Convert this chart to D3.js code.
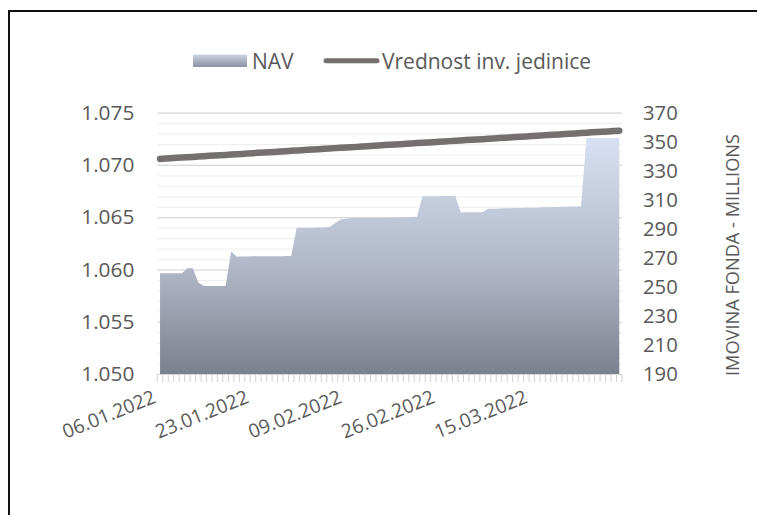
<!DOCTYPE html>
<html><head><meta charset="utf-8">
<script src="https://cdn.jsdelivr.net/npm/d3@7"></script>
<style>
body{margin:0;background:#fff}
text{font-family:"Open Sans",sans-serif;fill:#595959}
</style>
</head><body>
<svg id="c" width="757" height="515"></svg>
<script>
// ---- data ----
const categories = d3.timeDay.range(new Date(2022,0,6), new Date(2022,3,1)).map(d3.timeFormat("%d.%m.%Y"));
const tickLabels = ["06.01.2022","23.01.2022","09.02.2022","26.02.2022","15.03.2022"];
const leftTicks = [1.050,1.055,1.060,1.065,1.070,1.075];
const rightTicks = [190,210,230,250,270,290,310,330,350,370];
const navValues = [
 259.4,259.4,259.4,259.4,259.4,262.8,262.8,253.0,250.6,250.6,
 250.6,250.6,250.6,274.3,271.0,271.0,271.0,271.1,271.1,271.1,
 271.2,271.2,271.2,271.3,271.3,290.8,290.8,290.8,290.8,290.9,
 291.0,291.2,293.9,296.5,297.0,297.4,297.4,297.5,297.5,297.5,
 297.5,297.6,297.6,297.7,297.8,298.0,298.1,298.3,312.5,312.5,
 312.5,312.5,312.6,312.6,312.6,301.5,301.5,301.5,301.5,301.5,
 303.8,303.9,304.0,304.1,304.2,304.3,304.4,304.5,304.6,304.7,
 304.8,304.9,305.0,305.1,305.2,305.3,305.4,305.6,352.6,352.6,
 352.6,352.6,352.6,352.6,352.6
];
const unitValues = [
 1.07058,1.07061,1.07064,1.07068,1.07071,1.07074,1.07077,1.07080,1.07084,1.07087,
 1.07090,1.07093,1.07096,1.07100,1.07103,1.07106,1.07109,1.07113,1.07116,1.07119,
 1.07122,1.07125,1.07129,1.07132,1.07135,1.07138,1.07141,1.07145,1.07148,1.07151,
 1.07154,1.07157,1.07161,1.07164,1.07167,1.07170,1.07173,1.07177,1.07180,1.07183,
 1.07186,1.07190,1.07193,1.07196,1.07199,1.07202,1.07206,1.07209,1.07212,1.07215,
 1.07218,1.07222,1.07225,1.07228,1.07231,1.07234,1.07238,1.07241,1.07244,1.07247,
 1.07251,1.07254,1.07257,1.07260,1.07263,1.07267,1.07270,1.07273,1.07276,1.07279,
 1.07283,1.07286,1.07289,1.07292,1.07296,1.07299,1.07302,1.07305,1.07308,1.07312,
 1.07315,1.07318,1.07321,1.07324,1.07328
];
const seriesNames = ["NAV","Vrednost inv. jedinice"];
const rightTitle = "IMOVINA FONDA - MILLIONS";

// ---- chart ----
const svg = d3.select("#c");
const L = 157.3, R = 622, T = 112.7, B = 374;
const x = d3.scaleBand().domain(categories).range([L, R]).paddingInner(0).paddingOuter(0);
const cx = c => x(c) + x.bandwidth()/2;
const yL = d3.scaleLinear().domain([1.050, 1.075]).range([B, T]);
const yR = d3.scaleLinear().domain([190, 370]).range([B, T]);

svg.append("rect").attr("width",757).attr("height",515).attr("fill","#fff");

const defs = svg.append("defs");
const g1 = defs.append("linearGradient").attr("id","areaGrad")
  .attr("gradientUnits","userSpaceOnUse").attr("x1",0).attr("x2",0)
  .attr("y1", yR(d3.max(navValues))).attr("y2", B);
g1.append("stop").attr("offset","0").attr("stop-color","#d7e1f3");
g1.append("stop").attr("offset","0.55").attr("stop-color","#b0b8c8");
g1.append("stop").attr("offset","1").attr("stop-color","#7b818d");
const g2 = defs.append("linearGradient").attr("id","legGrad").attr("x1",0).attr("x2",0).attr("y1",0).attr("y2",1);
g2.append("stop").attr("offset","0").attr("stop-color","#cdd5e5");
g2.append("stop").attr("offset","1").attr("stop-color","#8a92a2");

// minor gridlines
const minor = svg.append("g").attr("transform",`translate(${L},0)`)
  .call(d3.axisLeft(yL).ticks(25).tickSize(-(R-L)).tickFormat(""));
minor.select(".domain").remove();
minor.selectAll("line").attr("stroke","#efefef").attr("stroke-width",1.2);
// major gridlines
const major = svg.append("g").attr("transform",`translate(${L},0)`)
  .call(d3.axisLeft(yL).tickValues(leftTicks).tickSize(-(R-L)).tickFormat(""));
major.select(".domain").remove();
major.selectAll("line").attr("stroke","#d9d9d9").attr("stroke-width",1.2);

// area
svg.append("path").datum(navValues.map((v,i)=>({c:categories[i], v})))
  .attr("fill","url(#areaGrad)")
  .attr("d", d3.area().x(d=>cx(d.c)).y0(yR(190)).y1(d=>yR(d.v)));

// line
svg.append("path").datum(unitValues.map((v,i)=>({c:categories[i], v})))
  .attr("fill","none").attr("stroke","#757070").attr("stroke-width",6.5)
  .attr("stroke-linecap","round").attr("stroke-linejoin","round")
  .attr("d", d3.line().x(d=>cx(d.c)).y(d=>yL(d.v)));

// x tick marks at category boundaries
const bounds = categories.map(c=>x(c)).concat([x.range()[1]]);
svg.append("g").selectAll("line").data(bounds).join("line")
  .attr("x1",d=>d).attr("x2",d=>d).attr("y1",B).attr("y2",B+8)
  .attr("stroke","#d0d0d0").attr("stroke-width",1);

// left axis labels
const la = svg.append("g").attr("transform",`translate(${L},0)`)
  .call(d3.axisLeft(yL).tickValues(leftTicks).tickSize(0).tickPadding(23).tickFormat(d3.format(".3f")));
la.select(".domain").remove();
la.selectAll("text").attr("font-size",20.8).style("font-family",'"Open Sans",sans-serif').attr("fill","#595959");

// right axis labels
const ra = svg.append("g").attr("transform",`translate(${R},0)`)
  .call(d3.axisRight(yR).tickValues(rightTicks).tickSize(0).tickPadding(21));
ra.select(".domain").remove();
ra.selectAll("text").attr("font-size",20.3).style("font-family",'"Open Sans",sans-serif').attr("fill","#595959");

// x labels
svg.append("g").selectAll("text").data(tickLabels).join("text")
  .attr("transform", d=>`translate(${cx(d)-3},402) rotate(-22)`)
  .attr("text-anchor","end").attr("font-size",19.3).text(d=>d);

// right title
svg.append("text").attr("transform","translate(732,255) rotate(-90)")
  .attr("text-anchor","middle").attr("dominant-baseline","central")
  .attr("font-size",18.2).text(rightTitle);

// legend
svg.append("rect").attr("x",193).attr("y",54.5).attr("width",54).attr("height",12.5).attr("fill","url(#legGrad)");
svg.append("text").attr("x",252).attr("y",61).attr("dominant-baseline","central").attr("font-size",21).text(seriesNames[0]);
svg.append("line").attr("x1",326).attr("x2",377).attr("y1",60.7).attr("y2",60.7)
  .attr("stroke","#757070").attr("stroke-width",5).attr("stroke-linecap","round");
svg.append("text").attr("x",382).attr("y",61).attr("dominant-baseline","central").attr("font-size",21).text(seriesNames[1]);

// border (top & left)
svg.append("path").attr("d","M9,515 V11 H757").attr("fill","none").attr("stroke","#111").attr("stroke-width",2);
</script>
</body></html>
